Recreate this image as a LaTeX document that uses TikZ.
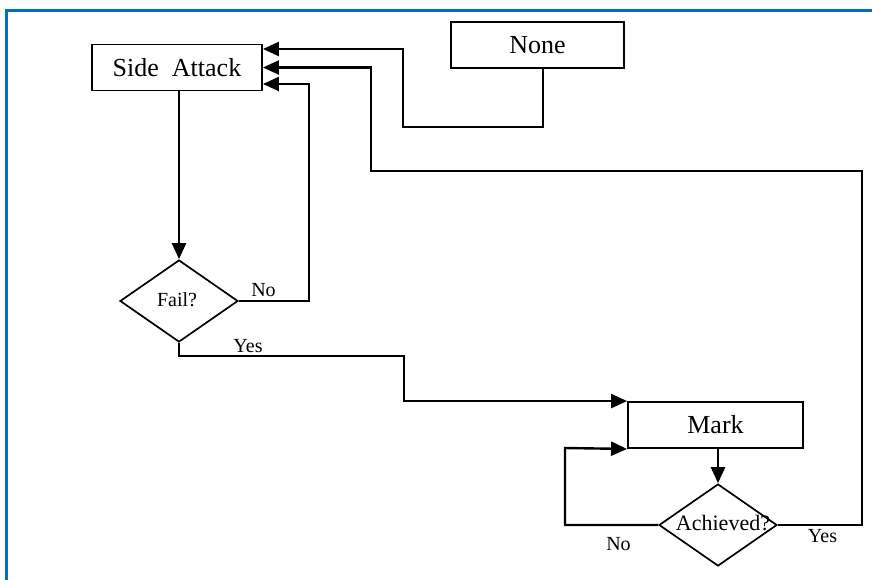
\documentclass[tikz,border=0pt]{standalone}
\usepackage{fontspec}
\setmainfont{Liberation Serif}
\usetikzlibrary{arrows.meta,shapes.geometric,calc}
\definecolor{frameblue}{RGB}{0,112,192}
\begin{document}
\begin{tikzpicture}[x=1pt,y=-1pt,
  boxnode/.style={draw,line width=1.9pt,minimum width=#1,minimum height=46pt,inner sep=0pt,font=\fontsize{26}{30}\selectfont},
  dia/.style={draw,shape=diamond,line width=1.7pt,minimum width=118pt,minimum height=82pt,inner sep=0pt},
  diatext/.style={inner sep=0pt,font=\fontsize{#1}{24}\selectfont},
  lbl/.style={inner sep=0pt,font=\fontsize{20}{24}\selectfont},
  conn/.style={line width=2.4pt},
  arr/.style={conn,-{Triangle[length=16pt,width=14pt]}}]
\useasboundingbox (0,0) rectangle (872,579);
\fill[white] (0,0) rectangle (872,579);
\draw[frameblue,line width=3pt] (880,10) -- (6.5,10) -- (6.5,590);

\node[boxnode=170pt] (sa) at (177,67.5) {Side\ \ Attack};
\node[boxnode=173pt] (none) at (537.5,45) {None};
\node[boxnode=175pt] (mark) at (715.5,425) {Mark};
\node[dia] (fail) at (179,301) {};
\node[diatext=20] (failt) at (177,300) {Fail?};
\node[dia] (ach) at (718,525) {};
\node[diatext=22] (acht) at (723,523) {Achieved?};

% Side Attack -> Fail?
\draw[arr] (sa.south -| fail.north) -- (fail.north);
% Fail? No -> Side Attack
\draw[arr] (fail.east) -| (309,84) -- ($(sa.east)+(0,16.5)$);
\node[lbl] (no1) at (263.5,290) {No};
% None -> Side Attack
\draw[arr] ($(none.south)+(5.5,0)$) |- (403,127) |- ($(sa.east)+(0,-18.5)$);
% Fail? Yes -> Mark
\draw[arr] (fail.south) |- (404,356) |- (mark.north west);
\node[lbl] (yes1) at (248,346) {Yes};
% Mark -> Achieved?
\draw[arr] (mark.south -| ach.north) -- (ach.north);
% Achieved? No -> Mark
\draw[arr] (ach.west) -| (565,448) -- (mark.south west);
\node[lbl] (no2) at (618.5,544) {No};
% Achieved? Yes -> Side Attack
\draw[arr] (ach.east) -| (862,171) -| (371,67.5) -- (sa.east);
\node[lbl] (yes2) at (822.5,536.5) {Yes};
\end{tikzpicture}
\end{document}
